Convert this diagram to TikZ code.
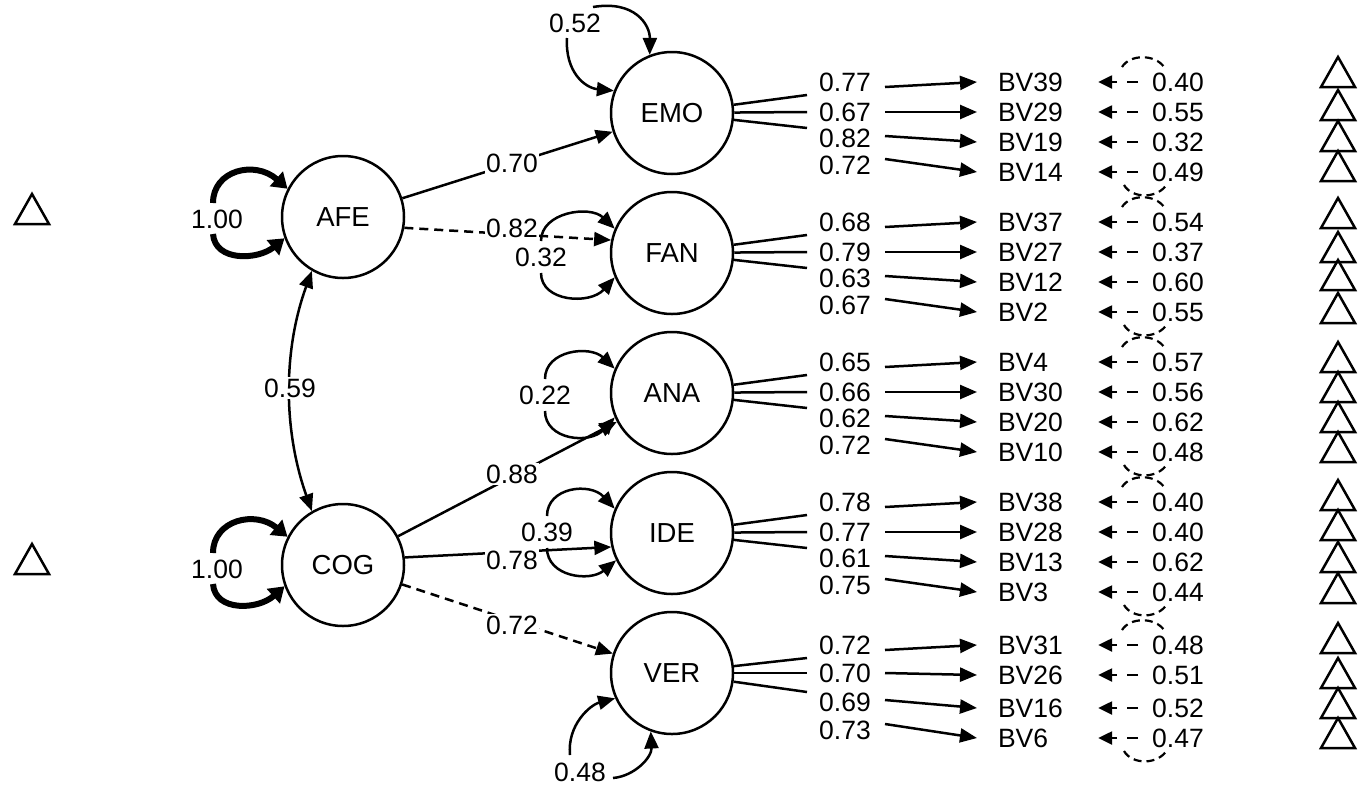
\documentclass[tikz,border=0pt]{standalone}
\usepackage{fontspec}
\setmainfont{Liberation Sans}
\usetikzlibrary{arrows.meta}
\begin{document}
\begin{tikzpicture}[x=1pt,y=-1pt,
  every node/.style={font=\fontsize{26.5}{30}\selectfont},
  lat/.style={circle, draw, line width=2.5pt, minimum size=122pt, inner sep=0pt, fill=white, font=\fontsize{27.5}{30}\selectfont},
  ln/.style={line width=2.5pt},
  arr/.style={line width=2.5pt, -{Triangle[length=17pt,width=14pt]}},
  dbl/.style={line width=2.5pt, {Triangle[length=17pt,width=14pt]}-{Triangle[length=17pt,width=14pt]}},
  dsh/.style={dash pattern=on 9pt off 6pt},
  bigloop/.style={line width=6pt, -{Triangle[length=15pt,width=19pt]}},
  lbl/.style={fill=white, inner sep=1.5pt},
  bvnode/.style={anchor=west, inner xsep=21pt, inner ysep=0pt, outer sep=0pt},
  resnode/.style={inner xsep=14pt, inner ysep=0pt, outer sep=0pt},
  resarr/.style={line width=2.5pt, dash pattern=on 11pt off 10pt on 30pt, -{Triangle[length=14pt,width=13pt]}},
  resloop/.style={line width=2.2pt, dash pattern=on 8pt off 5pt},
  tri/.style={line width=2.5pt, line join=miter}
]
\useasboundingbox (0,0) rectangle (1370,793);

% latent variables
\node[lat] (AFE) at (343,217) {AFE};
\node[lat] (COG) at (343,565) {COG};
\node[lat] (EMO) at (672,113) {EMO};
\node[lat] (FAN) at (672,253) {FAN};
\node[lat] (ANA) at (672,393) {ANA};
\node[lat] (IDE) at (672,533) {IDE};
\node[lat] (VER) at (672,673) {VER};

% left triangles
\draw[tri] (15,224) -- (32,194) -- (49,224) -- cycle;
\draw[tri] (15,574) -- (32,544) -- (49,574) -- cycle;

% right triangles
\foreach \b in {87,120,151,181,228,262,290,323,372,402,432,462,510,540,572,603,653,688,718,748}{
  \draw[tri] (1321,\b) -- (1338,{\b-30}) -- (1355,\b) -- cycle;
}

% structural paths
\draw[arr] (AFE) -- (EMO);
\draw[arr,dsh] (AFE.-10) -- (FAN.168);
\draw[arr] (COG) -- (ANA);
\draw[arr] (COG.7) -- (IDE.193);
\draw[arr,dsh] (COG) -- (VER);
\node[lbl] (pEMO) at (512,163) {0.70};
\node[lbl] (pFAN) at (512,228) {0.82};
\node[lbl] (pANA) at (512,474) {0.88};
\node[lbl] (pIDE) at (512,560) {0.78};
\node[lbl] (pVER) at (512,625) {0.72};

% covariance AFE-COG
\draw[dbl] (AFE.240) .. controls (283,350) and (283,430) .. (COG.120);
\node[lbl] (cov) at (290,388) {0.59};

% latent variances
\node (vAFE) at (217,219) {1.00};
\draw[bigloop] (213,203) .. controls (213,170) and (255,160) .. (AFE.153);
\draw[bigloop] (213,234) .. controls (215,262) and (258,260) .. (AFE.200);
\node (vCOG) at (217,569) {1.00};
\draw[bigloop] (213,553) .. controls (213,520) and (255,510) .. (COG.153);
\draw[bigloop] (213,584) .. controls (215,612) and (258,610) .. (COG.200);

\node (vEMO) at (575,23) {0.52};
\draw[arr] (567,38) .. controls (565,72) and (585,88) .. (EMO.159);
\draw[arr] (593,7) .. controls (635,0) and (650,25) .. (EMO.111);

\node[lbl] (vFAN) at (541,257) {0.32};
\draw[arr] (541,241) .. controls (541,212) and (590,205) .. (FAN.157);
\draw[arr] (541,273) .. controls (541,302) and (590,305) .. (FAN.203);

\node[lbl] (vANA) at (545,395) {0.22};
\draw[arr] (545,379) .. controls (545,350) and (590,345) .. (ANA.157);
\draw[arr] (545,411) .. controls (545,440) and (590,445) .. (ANA.203);

\node[lbl] (vIDE) at (547,532) {0.39};
\draw[arr] (547,516) .. controls (547,487) and (590,482) .. (IDE.157);
\draw[arr] (547,548) .. controls (547,577) and (590,582) .. (IDE.206);

\node (vVER) at (580,772) {0.48};
\draw[arr] (570,755) .. controls (567,725) and (590,705) .. (VER.204);
\draw[arr] (613,778) .. controls (635,776) and (652,757) .. (VER.250);

% indicators
\foreach \lat/\bvn/\br/\lr/\k/\ld/\rs in {
  EMO/BV39/82/82/1/0.77/0.40, EMO/BV29/112/112/2/0.67/0.55, EMO/BV19/142/138/3/0.82/0.32, EMO/BV14/172/165/4/0.72/0.49,
  FAN/BV37/222/222/1/0.68/0.54, FAN/BV27/252/252/2/0.79/0.37, FAN/BV12/282/278/3/0.63/0.60, FAN/BV2/312/305/4/0.67/0.55,
  ANA/BV4/362/362/1/0.65/0.57, ANA/BV30/392/392/2/0.66/0.56, ANA/BV20/422/418/3/0.62/0.62, ANA/BV10/452/445/4/0.72/0.48,
  IDE/BV38/502/502/1/0.78/0.40, IDE/BV28/532/532/2/0.77/0.40, IDE/BV13/562/558/3/0.61/0.62, IDE/BV3/592/585/4/0.75/0.44,
  VER/BV31/645/645/1/0.72/0.48, VER/BV26/675/673/2/0.70/0.51, VER/BV16/708/702/3/0.69/0.52, VER/BV6/738/730/4/0.73/0.47}{
  \ifcase\k\or \def\dd{13}\def\ee{5}\or \def\dd{0}\def\ee{0}\or \def\dd{-10}\def\ee{-2}\or \def\dd{0}\def\ee{-6}\fi
  \node[bvnode] (\bvn) at (977,\br) {\bvn};
  \node (L\bvn) at (845,\lr) {\ld};
  \node[resnode] (R\bvn) at (1178,\br) {\rs};
  \ifnum\k<4 \draw[ln] (\lat) -- (807,{\lr+\dd}); \fi
  \draw[arr] (885,{\lr+\ee}) -- (\bvn.west);
  \draw[resarr] (R\bvn.west) -- ++(-40,0);
}

% residual loops (partially hidden)
\foreach \top/\bot in {82/172,222/312,362/452,502/592,645/738}{
  \draw[resloop] (1122,{\top-15}) .. controls (1130,{\top-28}) and (1155,{\top-28}) .. (1164,{\top-15});
  \draw[resloop] (1124,{\bot+13}) .. controls (1132,{\bot+27}) and (1158,{\bot+27}) .. (1167,{\bot+12});
}
\end{tikzpicture}
\end{document}
